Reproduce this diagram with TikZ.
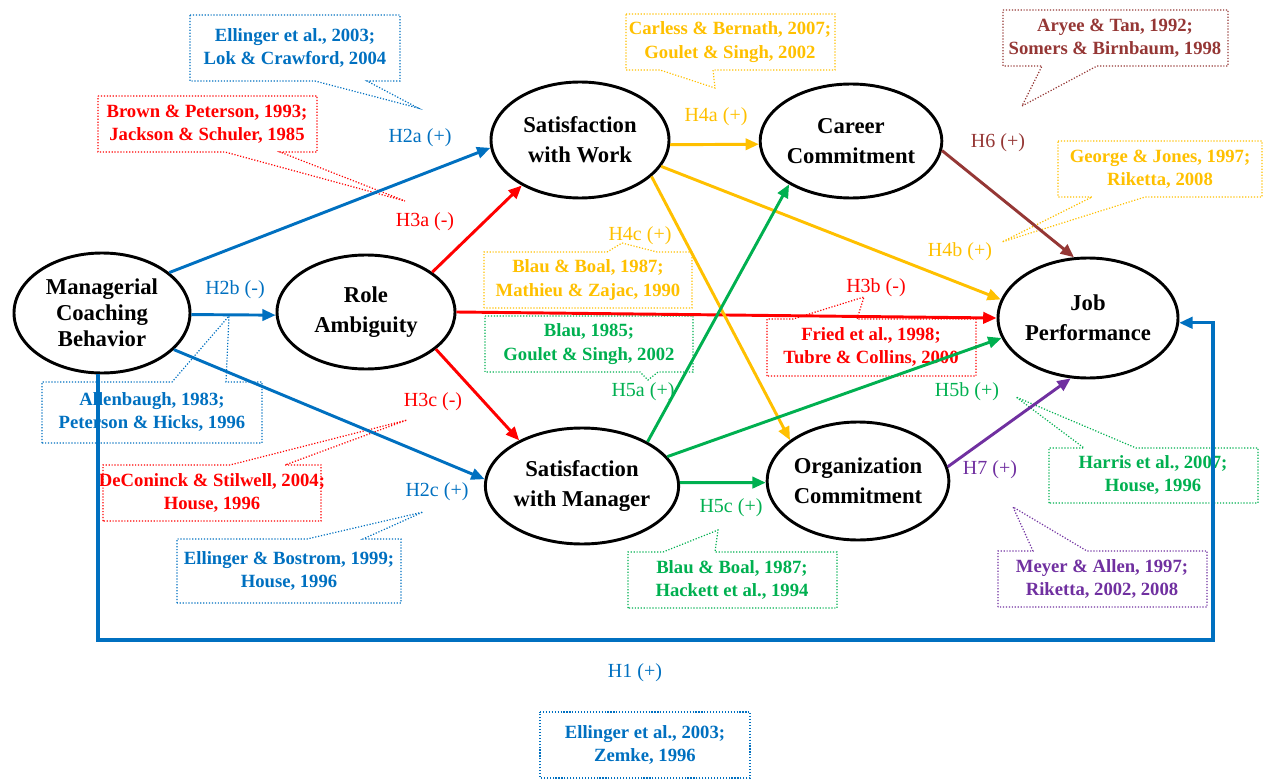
\documentclass[tikz,border=0pt]{standalone}
\usepackage{fontspec}
\setmainfont{Liberation Serif}
\usetikzlibrary{shapes.geometric,arrows.meta}
\definecolor{hblue}{HTML}{0070C0}
\definecolor{hred}{HTML}{FF0000}
\definecolor{hgold}{HTML}{FFC000}
\definecolor{hgreen}{HTML}{00B050}
\definecolor{hbrown}{HTML}{953735}
\definecolor{hpurple}{HTML}{7030A0}

\begin{document}
\begin{tikzpicture}[x=0.75pt,y=-0.75pt,
  construct/.style={ellipse,draw=black,line width=2.2pt,fill=white,inner sep=0pt,
    align=center,font=\bfseries\fontsize{17}{22.5}\selectfont},
  link/.style={line width=2.2pt,-{Triangle[length=10pt,width=8.5pt]}},
  hyp/.style={font=\fontsize{15}{17}\selectfont,inner sep=1pt},
  cite/.style={align=center,font=\bfseries\fontsize{14}{17.5}\selectfont,inner sep=0pt},
  bubble/.style={line width=0.9pt,dash pattern=on 0.9pt off 1.3pt},
]
\useasboundingbox (0,0) rectangle (1267,781);

% ---- citation call-outs ----
\draw[bubble,hblue] (190,15) -- (400,15) -- (400,81) -- (367,81) -- (418,108) -- (315,81) -- (190,81) -- cycle;
\node[cite,text=hblue] (c2a) at (295,48) {Ellinger et al., 2003;\\Lok \& Crawford, 2004};

\draw[bubble,hred] (98,96) -- (317,96) -- (317,152) -- (280,152) -- (405,201) -- (225,152) -- (98,152) -- cycle;
\node[cite,text=hred] (c3a) at (207,124) {Brown \& Peterson, 1993;\\Jackson \& Schuler, 1985};

\draw[bubble,hblue] (42,443) -- (42,382) -- (172,382) -- (229,316) -- (226,382) -- (262,382) -- (262,443) -- cycle;
\node[cite,text=hblue] (c2b) at (152,412) {Allenbaugh, 1983;\\Peterson \& Hicks, 1996};

\draw[bubble,hred] (103,521) -- (103,465) -- (230,465) -- (407,420) -- (285,465) -- (321,465) -- (321,521) -- cycle;
\node[cite,text=hred] (c3c) at (212,493) {DeConinck \& Stilwell, 2004;\\House, 1996};

\draw[bubble,hblue] (177,603) -- (177,539) -- (307,539) -- (423,512) -- (363,539) -- (401,539) -- (401,603) -- cycle;
\node[cite,text=hblue] (c2c) at (289,571) {Ellinger \& Bostrom, 1999;\\House, 1996};

\draw[bubble,hgold] (626,14) -- (835,14) -- (835,70) -- (713,70) -- (715,88) -- (660,70) -- (626,70) -- cycle;
\node[cite,text=hgold] (c4a) at (730,42) {Carless \& Bernath, 2007;\\Goulet \& Singh, 2002};

\draw[bubble,hbrown] (1003,10) -- (1228,10) -- (1228,66) -- (1097,66) -- (1022,106) -- (1042,66) -- (1003,66) -- cycle;
\node[cite,text=hbrown] (c6) at (1115,38) {Aryee \& Tan, 1992;\\Somers \& Birnbaum, 1998};

\draw[bubble,hgold] (1058,141) -- (1262,141) -- (1262,197) -- (1145,197) -- (1002,242) -- (1092,197) -- (1058,197) -- cycle;
\node[cite,text=hgold] (c4b) at (1160,169) {George \& Jones, 1997;\\Riketta, 2008};

\draw[bubble,hgold] (484,308) -- (484,252) -- (607,252) -- (622,243) -- (657,252) -- (692,252) -- (692,308) -- cycle;
\node[cite,text=hgold] (c4c) at (588,280) {Blau \& Boal, 1987;\\Mathieu \& Zajac, 1990};

\draw[bubble,hgreen] (485,316) -- (693,316) -- (693,372) -- (658,372) -- (648,380) -- (640,372) -- (485,372) -- cycle;
\node[cite,text=hgreen] (c5a) at (589,344) {Blau, 1985;\\Goulet \& Singh, 2002};

\draw[bubble,hred] (767,376) -- (767,319) -- (793,319) -- (864,297) -- (857,319) -- (976,319) -- (976,376) -- cycle;
\node[cite,text=hred] (c3b) at (871,347) {Fried et al., 1998;\\Tubre \& Collins, 2000};

\draw[bubble,hgreen] (1049,503) -- (1049,448) -- (1084,448) -- (1016,397) -- (1136,448) -- (1258,448) -- (1258,503) -- cycle;
\node[cite,text=hgreen] (c5b) at (1153,475) {Harris et al., 2007;\\House, 1996};

\draw[bubble,hgreen] (628,608) -- (628,552) -- (663,552) -- (718,530) -- (715,552) -- (837,552) -- (837,608) -- cycle;
\node[cite,text=hgreen] (c5c) at (732,580) {Blau \& Boal, 1987;\\Hackett et al., 1994};

\draw[bubble,hpurple] (998,607) -- (998,551) -- (1033,551) -- (1013,507) -- (1087,551) -- (1207,551) -- (1207,607) -- cycle;
\node[cite,text=hpurple] (c7) at (1102,579) {Meyer \& Allen, 1997;\\Riketta, 2002, 2008};

\draw[bubble,hblue] (540,712) -- (750,712) -- (750,778) -- (540,778) -- cycle;
\node[cite,text=hblue] (c1) at (645,745) {Ellinger et al., 2003;\\Zemke, 1996};

% ---- constructs ----
\node[construct,minimum width=132pt,minimum height=90pt,font=\bfseries\fontsize{17}{19.5}\selectfont] (mcb) at (102,313) {Managerial\\Coaching\\Behavior};
\node[construct,minimum width=133.5pt,minimum height=85.5pt] (ra) at (366,312) {Role\\Ambiguity};
\node[construct,minimum width=133.5pt,minimum height=87pt] (sww) at (580,140) {Satisfaction\\with Work};
\node[construct,minimum width=133.5pt,minimum height=85.5pt] (cc) at (851,141) {Career\\Commitment};
\node[construct,minimum width=135pt,minimum height=90pt] (jp) at (1088,318) {Job\\Performance};
\node[construct,minimum width=135pt,minimum height=87pt] (swm) at (582,486) {Satisfaction\\with Manager};
\node[construct,minimum width=135pt,minimum height=88.5pt] (oc) at (858,481) {Organization\\Commitment};

% ---- hypothesised paths ----
\coordinate (h1down) at (98,640);
\coordinate (h1turn) at (1213,640);
\coordinate (h1start) at (98,374);
\draw[link,hblue,line width=2.4pt] (h1start) -- (h1down) -- (h1turn) |- (jp.-3);
\draw[link,hblue] (mcb.31) -- (sww.185);
\draw[link,hblue] (mcb.-1) -- (ra.182);
\draw[link,hblue] (mcb.-27) -- (swm.176);

\draw[link,hred] (ra.31) -- (sww.218);
\draw[link,hred] (ra.east) -- (jp.west);
\draw[link,hred] (ra.-28) -- (swm.144);

\draw[link,hgold] (sww.-3) -- (cc.182);
\draw[link,hgold] (sww.-18) -- (jp.168);
\draw[link,hgold] (sww.-27) -- (oc.149);

\draw[link,hgreen] (swm.34) -- (cc.215);
\draw[link,hgreen] (swm.19) -- (jp.193);
\draw[link,hgreen] (swm.2) -- (oc.181);

\draw[link,hbrown] (cc.-6) -- (jp.103);
\draw[link,hpurple] (oc.9) -- (jp.254);

% ---- hypothesis labels ----
\node[hyp,text=hblue] (lh2a) at (420,138) {H2a (+)};
\node[hyp,text=hblue] (lh2b) at (235,290) {H2b (-)};
\node[hyp,text=hblue] (lh2c) at (437,492) {H2c (+)};
\node[hyp,text=hblue] (lh1) at (635,673) {H1 (+)};
\node[hyp,text=hred] (lh3a) at (425,222) {H3a (-)};
\node[hyp,text=hred] (lh3b) at (876,288) {H3b (-)};
\node[hyp,text=hred] (lh3c) at (433,402) {H3c (-)};
\node[hyp,text=hgold] (lh4a) at (716,117) {H4a (+)};
\node[hyp,text=hgold] (lh4b) at (960,252) {H4b (+)};
\node[hyp,text=hgold] (lh4c) at (640,236) {H4c (+)};
\node[hyp,text=hgreen] (lh5a) at (643,392) {H5a (+)};
\node[hyp,text=hgreen] (lh5b) at (967,392) {H5b (+)};
\node[hyp,text=hgreen] (lh5c) at (731,508) {H5c (+)};
\node[hyp,text=hbrown] (lh6) at (998,143) {H6 (+)};
\node[hyp,text=hpurple] (lh7) at (990,470) {H7 (+)};
\end{tikzpicture}
\end{document}
